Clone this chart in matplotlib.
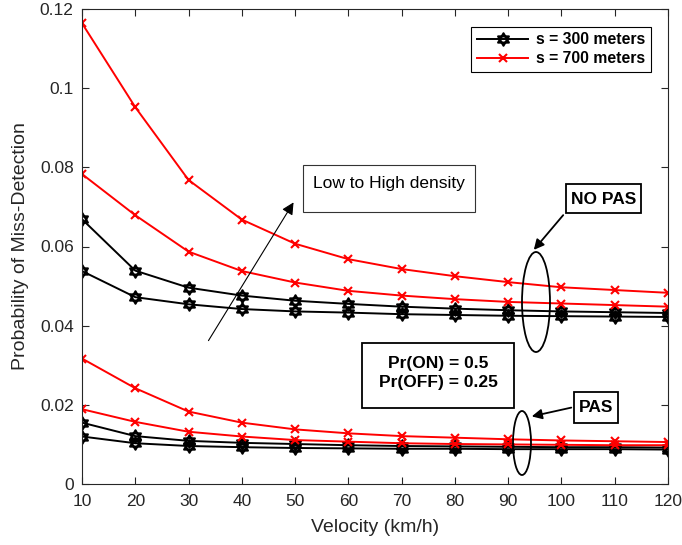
import matplotlib
matplotlib.use("Agg")
import matplotlib.pyplot as plt
from matplotlib.patches import Ellipse, Rectangle
from matplotlib.path import Path
import numpy as np

plt.rcParams['font.family'] = ['Liberation Sans', 'DejaVu Sans']

velocity = [10, 20, 30, 40, 50, 60, 70, 80, 90, 100, 110, 120]

# NO PAS
nopas_300_a = [0.0669, 0.0539, 0.0496, 0.0476, 0.0463, 0.0455, 0.0448, 0.0443, 0.0439, 0.0436, 0.0434, 0.0432]
nopas_300_b = [0.0538, 0.0472, 0.0454, 0.0442, 0.0436, 0.0433, 0.0429, 0.0427, 0.0425, 0.0424, 0.0423, 0.0422]
nopas_700_a = [0.1164, 0.0952, 0.0768, 0.0668, 0.0607, 0.0568, 0.0543, 0.0525, 0.0510, 0.0497, 0.0490, 0.0483]
nopas_700_b = [0.0783, 0.0679, 0.0587, 0.0538, 0.0509, 0.0488, 0.0476, 0.0467, 0.0460, 0.0456, 0.0452, 0.0448]
# PAS
pas_300_a = [0.0155, 0.0121, 0.0109, 0.0104, 0.0101, 0.0098, 0.0096, 0.0095, 0.0094, 0.0093, 0.0093, 0.0092]
pas_300_b = [0.0120, 0.0103, 0.0096, 0.0093, 0.0091, 0.0090, 0.0089, 0.0089, 0.0088, 0.0088, 0.0088, 0.0087]
pas_700_a = [0.0317, 0.0242, 0.0183, 0.0155, 0.0138, 0.0128, 0.0121, 0.0117, 0.0113, 0.0110, 0.0108, 0.0106]
pas_700_b = [0.0189, 0.0157, 0.0132, 0.0120, 0.0111, 0.0107, 0.0103, 0.0101, 0.0100, 0.0099, 0.0098, 0.0098]

yticks = [0, 0.02, 0.04, 0.06, 0.08, 0.1, 0.12]
ytick_labels = ['0', '0.02', '0.04', '0.06', '0.08', '0.1', '0.12']
legend_labels = ['s = 300 meters', 's = 700 meters']

W, H = 682, 545
fig = plt.figure(figsize=(W/100, H/100), dpi=100)
ax = fig.add_axes([82/W, 1-484/H, (668-82)/W, (484-9)/H])

# hexagram marker (two overlapping triangles)
ang1 = np.deg2rad([90, 210, 330, 90])
ang2 = np.deg2rad([270, 30, 150, 270])
verts = list(zip(np.cos(ang1), np.sin(ang1))) + list(zip(np.cos(ang2), np.sin(ang2)))
codes = [Path.MOVETO, Path.LINETO, Path.LINETO, Path.CLOSEPOLY] * 2
hexagram = Path(verts, codes)

kb = dict(color='black', lw=1.4, marker=hexagram, ms=9, mfc='none', mec='black', mew=1.5)
kr = dict(color='red', lw=1.4, marker='x', ms=6, mew=1.5)

l1, = ax.plot(velocity, nopas_300_a, **kb)
ax.plot(velocity, nopas_300_b, **kb)
l2, = ax.plot(velocity, nopas_700_a, **kr)
ax.plot(velocity, nopas_700_b, **kr)
ax.plot(velocity, pas_300_a, **kb)
ax.plot(velocity, pas_300_b, **kb)
ax.plot(velocity, pas_700_a, **kr)
ax.plot(velocity, pas_700_b, **kr)

ax.set_xlim(10, 120)
ax.set_ylim(0, 0.12)
ax.set_xticks(velocity)
ax.set_yticks(yticks)
ax.set_yticklabels(ytick_labels)
ax.tick_params(direction='in', top=True, right=True, labelsize=12.5, colors='#262626', length=5)
ax.tick_params(axis='x', pad=7)
ax.tick_params(axis='y', pad=6)
for s in ax.spines.values():
    s.set_color('#262626')
    s.set_linewidth(0.8)
ax.set_xlabel('Velocity (km/h)', fontsize=14, color='#262626')
ax.set_ylabel('Probability of Miss-Detection', fontsize=14, color='#262626')
ax.xaxis.set_label_coords(0.5, -(528-484)/(484-9), transform=ax.transAxes)
ax.xaxis.label.set_va('center')
ax.yaxis.set_label_coords(-(82-21)/(668-82), 0.5, transform=ax.transAxes)
ax.yaxis.label.set_va('center')

leg = ax.legend([l1, l2], legend_labels, loc='upper right',
                prop={'weight': 'bold', 'size': 11.3}, fancybox=False, edgecolor='black',
                framealpha=1, handlelength=3.3, handletextpad=0.5, borderpad=0.35, labelspacing=0.25,
                borderaxespad=0, bbox_to_anchor=(651/W, 1-27/H), bbox_transform=fig.transFigure)
leg.get_frame().set_linewidth(0.8)

def P(px, py):
    return (px/W, 1-py/H)

tf = fig.transFigure
# Low to High density box
fig.patches.append(Rectangle(P(303, 212), (475-303)/W, (212-165)/H, transform=tf,
                             fill=True, facecolor='white', edgecolor='#333333', lw=0.8))
fig.text(*P(313, 183), 'Low to High density', transform=tf, fontsize=12.5, va='center', ha='left')
ax.annotate('', xy=P(295, 200), xycoords=tf, xytext=P(207, 343), textcoords=tf,
            arrowprops=dict(arrowstyle='-|>', color='black', lw=0.8, mutation_scale=18))

# NO PAS
fig.patches.append(Rectangle(P(566, 213), (641-566)/W, (213-184)/H, transform=tf,
                             facecolor='white', edgecolor='black', lw=1.3))
fig.text(*P(603.5, 199), 'NO PAS', transform=tf, fontsize=12.5, fontweight='bold', ha='center', va='center')
ax.annotate('', xy=P(532, 252), xycoords=tf, xytext=P(565, 213), textcoords=tf,
            arrowprops=dict(arrowstyle='-|>', color='black', lw=1.3, mutation_scale=15))
fig.patches.append(Ellipse(P(536, 302), 28/W, 100/H, transform=tf, fill=False, ec='black', lw=1.3))

# Pr box
fig.patches.append(Rectangle(P(362, 408), (514-362)/W, (408-343)/H, transform=tf,
                             facecolor='white', edgecolor='black', lw=1.3))
fig.text(*P(438, 373), 'Pr(ON) = 0.5\nPr(OFF) = 0.25', transform=tf, fontsize=12.5, fontweight='bold',
         ha='center', va='center', linespacing=1.3)

# PAS
fig.patches.append(Rectangle(P(574, 423), (618-574)/W, (423-392)/H, transform=tf,
                             facecolor='white', edgecolor='black', lw=1.3))
fig.text(*P(596, 408), 'PAS', transform=tf, fontsize=12.5, fontweight='bold', ha='center', va='center')
ax.annotate('', xy=P(529, 417), xycoords=tf, xytext=P(574, 407), textcoords=tf,
            arrowprops=dict(arrowstyle='-|>', color='black', lw=1.3, mutation_scale=15))
fig.patches.append(Ellipse(P(522, 443), 18/W, 64/H, transform=tf, fill=False, ec='black', lw=1.3))

fig.savefig('out.png', dpi=100, facecolor='white')
